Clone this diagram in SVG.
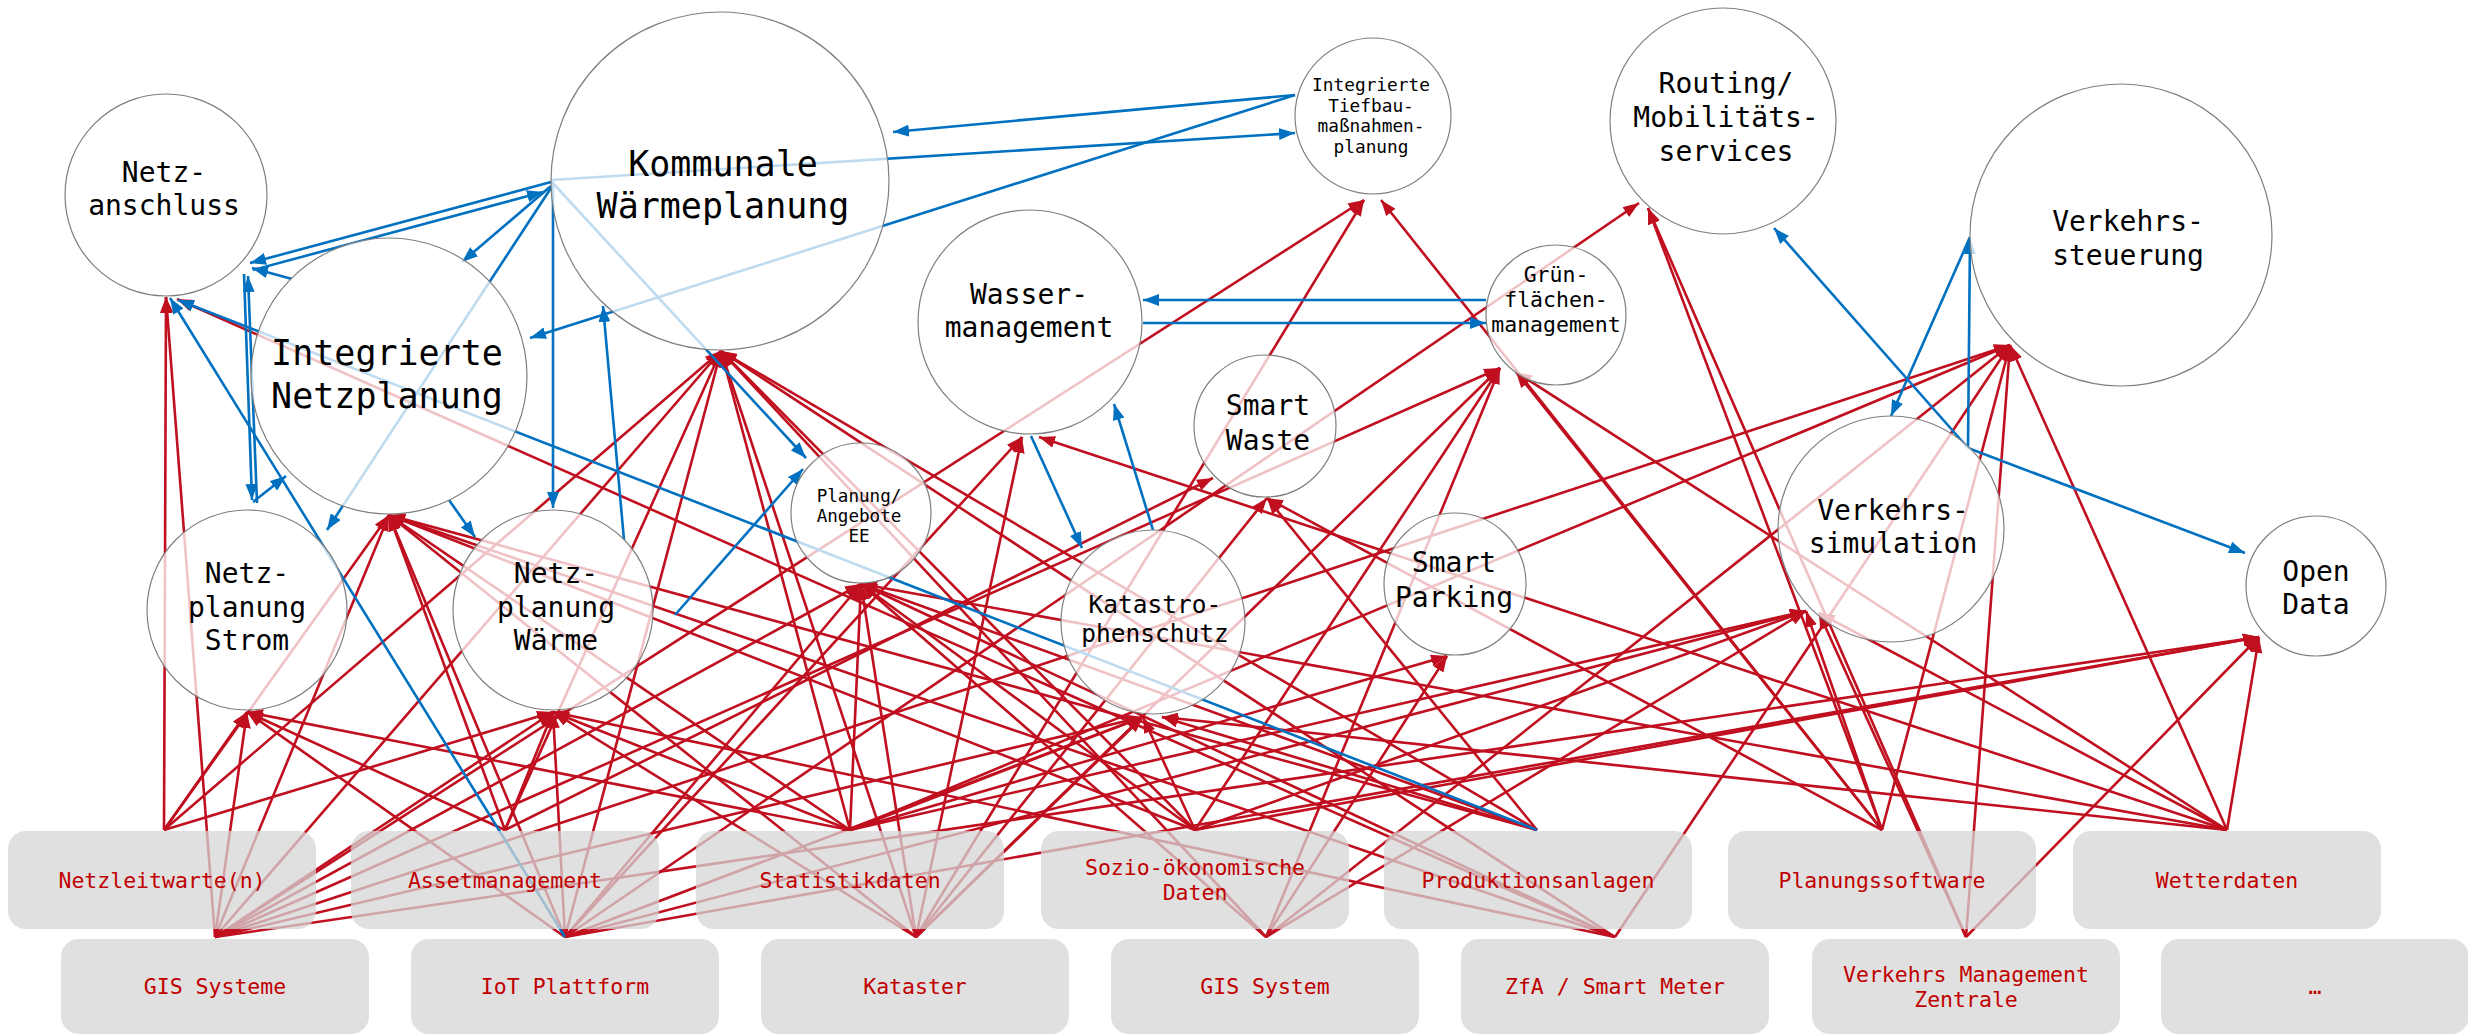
<svg xmlns="http://www.w3.org/2000/svg" width="2468" height="1034" viewBox="0 0 2468 1034">
<defs>
<marker id="ar" markerUnits="userSpaceOnUse" viewBox="0 0 16 12" markerWidth="16" markerHeight="12" refX="16" refY="6" orient="auto"><path d="M0,0 L16,6 L0,12 z" fill="#C00F1F"/></marker>
<marker id="ab" markerUnits="userSpaceOnUse" viewBox="0 0 16 12" markerWidth="16" markerHeight="12" refX="16" refY="6" orient="auto"><path d="M0,0 L16,6 L0,12 z" fill="#0070C0"/></marker>
<style>
.r{stroke:#C00F1F;stroke-width:2.6;fill:none;marker-end:url(#ar)}
.b{stroke:#0070C0;stroke-width:2.6;fill:none;marker-end:url(#ab)}
.c{fill:#ffffff;fill-opacity:0.75;stroke:#7f7f7f;stroke-width:1.2}
.t{font-family:"DejaVu Sans Mono","Liberation Mono",monospace;fill:#000;text-anchor:middle}
.bx{fill:#D6D6D6;fill-opacity:0.75}
.bt{font-family:"DejaVu Sans Mono","Liberation Mono",monospace;font-size:21.5px;fill:#C00000;text-anchor:middle}
</style>
</defs>
<rect width="2468" height="1034" fill="#ffffff"/>
<g id="connectors">
<line class="r" x1="164" y1="830" x2="166" y2="297"/>
<line class="r" x1="164" y1="830" x2="247" y2="712"/>
<line class="r" x1="164" y1="830" x2="553" y2="712"/>
<line class="r" x1="164" y1="830" x2="389" y2="515"/>
<line class="r" x1="164" y1="830" x2="721" y2="351"/>
<line class="r" x1="215" y1="937" x2="166" y2="297"/>
<line class="r" x1="215" y1="937" x2="247" y2="712"/>
<line class="r" x1="215" y1="937" x2="553" y2="712"/>
<line class="r" x1="215" y1="937" x2="389" y2="515"/>
<line class="r" x1="215" y1="937" x2="721" y2="351"/>
<line class="r" x1="215" y1="937" x2="861" y2="584"/>
<line class="r" x1="215" y1="937" x2="1364" y2="200"/>
<line class="r" x1="215" y1="937" x2="1500" y2="368"/>
<line class="r" x1="215" y1="937" x2="2259" y2="637"/>
<line class="r" x1="215" y1="937" x2="2010" y2="345"/>
<line class="r" x1="215" y1="937" x2="1143" y2="717"/>
<line class="r" x1="505" y1="830" x2="247" y2="712"/>
<line class="r" x1="505" y1="830" x2="553" y2="712"/>
<line class="r" x1="505" y1="830" x2="389" y2="515"/>
<line class="r" x1="505" y1="830" x2="721" y2="351"/>
<line class="r" x1="505" y1="830" x2="1213" y2="478"/>
<line class="r" x1="565" y1="937" x2="247" y2="712"/>
<line class="r" x1="565" y1="937" x2="553" y2="712"/>
<line class="r" x1="565" y1="937" x2="389" y2="515"/>
<line class="r" x1="565" y1="937" x2="721" y2="351"/>
<line class="r" x1="565" y1="937" x2="861" y2="584"/>
<line class="r" x1="565" y1="937" x2="1022" y2="437"/>
<line class="r" x1="565" y1="937" x2="1639" y2="203"/>
<line class="r" x1="565" y1="937" x2="1143" y2="717"/>
<line class="r" x1="565" y1="937" x2="1806" y2="611"/>
<line class="r" x1="565" y1="937" x2="2259" y2="637"/>
<line class="r" x1="850" y1="830" x2="247" y2="712"/>
<line class="r" x1="850" y1="830" x2="553" y2="712"/>
<line class="r" x1="850" y1="830" x2="389" y2="515"/>
<line class="r" x1="850" y1="830" x2="721" y2="351"/>
<line class="r" x1="850" y1="830" x2="861" y2="584"/>
<line class="r" x1="850" y1="830" x2="2010" y2="345"/>
<line class="r" x1="850" y1="830" x2="1806" y2="611"/>
<line class="r" x1="850" y1="830" x2="1447" y2="656"/>
<line class="r" x1="850" y1="830" x2="1143" y2="717"/>
<line class="r" x1="916" y1="937" x2="553" y2="712"/>
<line class="r" x1="916" y1="937" x2="389" y2="515"/>
<line class="r" x1="916" y1="937" x2="721" y2="351"/>
<line class="r" x1="916" y1="937" x2="861" y2="584"/>
<line class="r" x1="916" y1="937" x2="1022" y2="437"/>
<line class="r" x1="916" y1="937" x2="1364" y2="200"/>
<line class="r" x1="916" y1="937" x2="1500" y2="368"/>
<line class="r" x1="916" y1="937" x2="1267" y2="498"/>
<line class="r" x1="916" y1="937" x2="1143" y2="717"/>
<line class="r" x1="1195" y1="830" x2="389" y2="515"/>
<line class="r" x1="1195" y1="830" x2="721" y2="351"/>
<line class="r" x1="1195" y1="830" x2="861" y2="584"/>
<line class="r" x1="1195" y1="830" x2="1500" y2="368"/>
<line class="r" x1="1195" y1="830" x2="1143" y2="717"/>
<line class="r" x1="1195" y1="830" x2="1806" y2="611"/>
<line class="r" x1="1195" y1="830" x2="2259" y2="637"/>
<line class="r" x1="1266" y1="937" x2="721" y2="351"/>
<line class="r" x1="1266" y1="937" x2="861" y2="584"/>
<line class="r" x1="1266" y1="937" x2="1500" y2="368"/>
<line class="r" x1="1266" y1="937" x2="2010" y2="345"/>
<line class="r" x1="1266" y1="937" x2="1806" y2="611"/>
<line class="r" x1="1266" y1="937" x2="1447" y2="656"/>
<line class="r" x1="1537" y1="830" x2="389" y2="515"/>
<line class="r" x1="1537" y1="830" x2="721" y2="351"/>
<line class="r" x1="1537" y1="830" x2="861" y2="584"/>
<line class="r" x1="1537" y1="830" x2="1267" y2="498"/>
<line class="r" x1="1537" y1="830" x2="1162" y2="717"/>
<line class="r" x1="1615" y1="937" x2="177" y2="299"/>
<line class="r" x1="1615" y1="937" x2="389" y2="515"/>
<line class="r" x1="1615" y1="937" x2="721" y2="351"/>
<line class="r" x1="1615" y1="937" x2="861" y2="584"/>
<line class="r" x1="1615" y1="937" x2="2010" y2="345"/>
<line class="r" x1="1615" y1="937" x2="553" y2="712"/>
<line class="r" x1="1882" y1="830" x2="1381" y2="200"/>
<line class="r" x1="1882" y1="830" x2="1648" y2="208"/>
<line class="r" x1="1882" y1="830" x2="1516" y2="372"/>
<line class="r" x1="1882" y1="830" x2="2010" y2="345"/>
<line class="r" x1="1882" y1="830" x2="1806" y2="611"/>
<line class="r" x1="1882" y1="830" x2="1267" y2="498"/>
<line class="r" x1="1966" y1="937" x2="1648" y2="208"/>
<line class="r" x1="1966" y1="937" x2="2010" y2="345"/>
<line class="r" x1="1966" y1="937" x2="1819" y2="613"/>
<line class="r" x1="1966" y1="937" x2="2259" y2="637"/>
<line class="r" x1="2227" y1="830" x2="1039" y2="437"/>
<line class="r" x1="2227" y1="830" x2="861" y2="584"/>
<line class="r" x1="2227" y1="830" x2="1162" y2="717"/>
<line class="r" x1="2227" y1="830" x2="1516" y2="372"/>
<line class="r" x1="2227" y1="830" x2="2010" y2="345"/>
<line class="r" x1="2227" y1="830" x2="1819" y2="613"/>
<line class="r" x1="2227" y1="830" x2="2259" y2="637"/>
<line class="b" x1="1295" y1="95" x2="893" y2="132"/>
<line class="b" x1="551" y1="180" x2="1295" y2="133"/>
<line class="b" x1="551" y1="182" x2="250" y2="263"/>
<line class="b" x1="253" y1="270" x2="543" y2="192"/>
<line class="b" x1="292" y1="279" x2="252" y2="268"/>
<line class="b" x1="244" y1="274" x2="252" y2="500"/>
<line class="b" x1="257" y1="503" x2="248" y2="276"/>
<line class="b" x1="253" y1="502" x2="286" y2="476"/>
<line class="b" x1="551" y1="186" x2="462" y2="262"/>
<line class="b" x1="551" y1="188" x2="327" y2="530"/>
<line class="b" x1="553" y1="184" x2="553" y2="508"/>
<line class="b" x1="624" y1="540" x2="603" y2="306"/>
<line class="b" x1="551" y1="181" x2="806" y2="458"/>
<line class="b" x1="675" y1="615" x2="803" y2="469"/>
<line class="b" x1="449" y1="500" x2="475" y2="537"/>
<line class="b" x1="1295" y1="95" x2="530" y2="338"/>
<line class="b" x1="565" y1="937" x2="170" y2="298"/>
<line class="b" x1="1537" y1="830" x2="178" y2="300"/>
<line class="b" x1="1486" y1="300" x2="1143" y2="300"/>
<line class="b" x1="1143" y1="323" x2="1486" y2="323"/>
<line class="b" x1="1031" y1="436" x2="1082" y2="548"/>
<line class="b" x1="1153" y1="530" x2="1114" y2="404"/>
<line class="b" x1="1968" y1="448" x2="1774" y2="228"/>
<line class="b" x1="1968" y1="448" x2="1970" y2="238"/>
<line class="b" x1="1968" y1="448" x2="2245" y2="553"/>
<line class="b" x1="1970" y1="237" x2="1891" y2="416"/>
</g>
<g id="n-netzanschluss"><circle class="c" cx="166" cy="195" r="101"/><text class="t" font-size="28" x="164" y="182">Netz-</text><text class="t" font-size="28" x="164" y="215">anschluss</text></g>
<g id="n-kommunale-waermeplanung"><circle class="c" cx="720" cy="181" r="169"/><text class="t" font-size="35" x="723" y="176">Kommunale</text><text class="t" font-size="35" x="723" y="218">Wärmeplanung</text></g>
<g id="n-integrierte-netzplanung"><circle class="c" cx="389" cy="376" r="138"/><text class="t" font-size="35" x="387" y="365">Integrierte</text><text class="t" font-size="35" x="387" y="408">Netzplanung</text></g>
<g id="n-netzplanung-strom"><circle class="c" cx="247" cy="610" r="100"/><text class="t" font-size="28" x="247" y="583">Netz-</text><text class="t" font-size="28" x="247" y="617">planung</text><text class="t" font-size="28" x="247" y="650">Strom</text></g>
<g id="n-netzplanung-waerme"><circle class="c" cx="553" cy="610" r="100"/><text class="t" font-size="28" x="556" y="583">Netz-</text><text class="t" font-size="28" x="556" y="617">planung</text><text class="t" font-size="28" x="556" y="650">Wärme</text></g>
<g id="n-planung-angebote-ee"><circle class="c" cx="861" cy="513" r="70"/><text class="t" font-size="17.6" x="859" y="502">Planung/</text><text class="t" font-size="17.6" x="859" y="522">Angebote</text><text class="t" font-size="17.6" x="859" y="542">EE</text></g>
<g id="n-wassermanagement"><circle class="c" cx="1030" cy="322" r="112"/><text class="t" font-size="28" x="1029" y="304">Wasser-</text><text class="t" font-size="28" x="1029" y="337">management</text></g>
<g id="n-tiefbau"><circle class="c" cx="1373" cy="116" r="78"/><text class="t" font-size="17.8" x="1371" y="91">Integrierte</text><text class="t" font-size="17.8" x="1371" y="112">Tiefbau-</text><text class="t" font-size="17.8" x="1371" y="132">maßnahmen-</text><text class="t" font-size="17.8" x="1371" y="153">planung</text></g>
<g id="n-routing"><circle class="c" cx="1723" cy="121" r="113"/><text class="t" font-size="28" x="1726" y="93">Routing/</text><text class="t" font-size="28" x="1726" y="127">Mobilitäts-</text><text class="t" font-size="28" x="1726" y="161">services</text></g>
<g id="n-gruenflaechen"><circle class="c" cx="1556" cy="315" r="70"/><text class="t" font-size="21.5" x="1556" y="282">Grün-</text><text class="t" font-size="21.5" x="1556" y="307">flächen-</text><text class="t" font-size="21.5" x="1556" y="332">management</text></g>
<g id="n-smart-waste"><circle class="c" cx="1265" cy="426" r="71"/><text class="t" font-size="28" x="1268" y="415">Smart</text><text class="t" font-size="28" x="1268" y="450">Waste</text></g>
<g id="n-verkehrssteuerung"><circle class="c" cx="2121" cy="235" r="151"/><text class="t" font-size="28" x="2128" y="231">Verkehrs-</text><text class="t" font-size="28" x="2128" y="265">steuerung</text></g>
<g id="n-verkehrssimulation"><circle class="c" cx="1891" cy="529" r="113"/><text class="t" font-size="28" x="1893" y="520">Verkehrs-</text><text class="t" font-size="28" x="1893" y="553">simulation</text></g>
<g id="n-open-data"><circle class="c" cx="2316" cy="586" r="70"/><text class="t" font-size="28" x="2316" y="581">Open</text><text class="t" font-size="28" x="2316" y="614">Data</text></g>
<g id="n-smart-parking"><circle class="c" cx="1455" cy="584" r="71"/><text class="t" font-size="28" x="1454" y="572">Smart</text><text class="t" font-size="28" x="1454" y="607">Parking</text></g>
<g id="n-katastrophenschutz"><circle class="c" cx="1153" cy="622" r="92"/><text class="t" font-size="24.5" x="1155" y="613">Katastro-</text><text class="t" font-size="24.5" x="1155" y="642">phenschutz</text></g>
<g id="s-netzleitwarte"><rect class="bx" x="8" y="831" width="308" height="98" rx="18"/><text class="bt" x="162" y="888">Netzleitwarte(n)</text></g>
<g id="s-assetmanagement"><rect class="bx" x="351" y="831" width="308" height="98" rx="18"/><text class="bt" x="505" y="888">Assetmanagement</text></g>
<g id="s-statistikdaten"><rect class="bx" x="696" y="831" width="308" height="98" rx="18"/><text class="bt" x="850" y="888">Statistikdaten</text></g>
<g id="s-sozio"><rect class="bx" x="1041" y="831" width="308" height="98" rx="18"/><text class="bt" x="1195" y="875">Sozio-ökonomische</text><text class="bt" x="1195" y="900">Daten</text></g>
<g id="s-produktionsanlagen"><rect class="bx" x="1384" y="831" width="308" height="98" rx="18"/><text class="bt" x="1538" y="888">Produktionsanlagen</text></g>
<g id="s-planungssoftware"><rect class="bx" x="1728" y="831" width="308" height="98" rx="18"/><text class="bt" x="1882" y="888">Planungssoftware</text></g>
<g id="s-wetterdaten"><rect class="bx" x="2073" y="831" width="308" height="98" rx="18"/><text class="bt" x="2227" y="888">Wetterdaten</text></g>
<g id="s-gis-systeme"><rect class="bx" x="61" y="939" width="308" height="95" rx="18"/><text class="bt" x="215" y="994">GIS Systeme</text></g>
<g id="s-iot"><rect class="bx" x="411" y="939" width="308" height="95" rx="18"/><text class="bt" x="565" y="994">IoT Plattform</text></g>
<g id="s-kataster"><rect class="bx" x="761" y="939" width="308" height="95" rx="18"/><text class="bt" x="915" y="994">Kataster</text></g>
<g id="s-gis-system"><rect class="bx" x="1111" y="939" width="308" height="95" rx="18"/><text class="bt" x="1265" y="994">GIS System</text></g>
<g id="s-zfa"><rect class="bx" x="1461" y="939" width="308" height="95" rx="18"/><text class="bt" x="1615" y="994">ZfA / Smart Meter</text></g>
<g id="s-vmz"><rect class="bx" x="1812" y="939" width="308" height="95" rx="18"/><text class="bt" x="1966" y="982">Verkehrs Management</text><text class="bt" x="1966" y="1007">Zentrale</text></g>
<g id="s-more"><rect class="bx" x="2161" y="939" width="308" height="95" rx="18"/><text class="bt" x="2315" y="994">…</text></g>
</svg>
